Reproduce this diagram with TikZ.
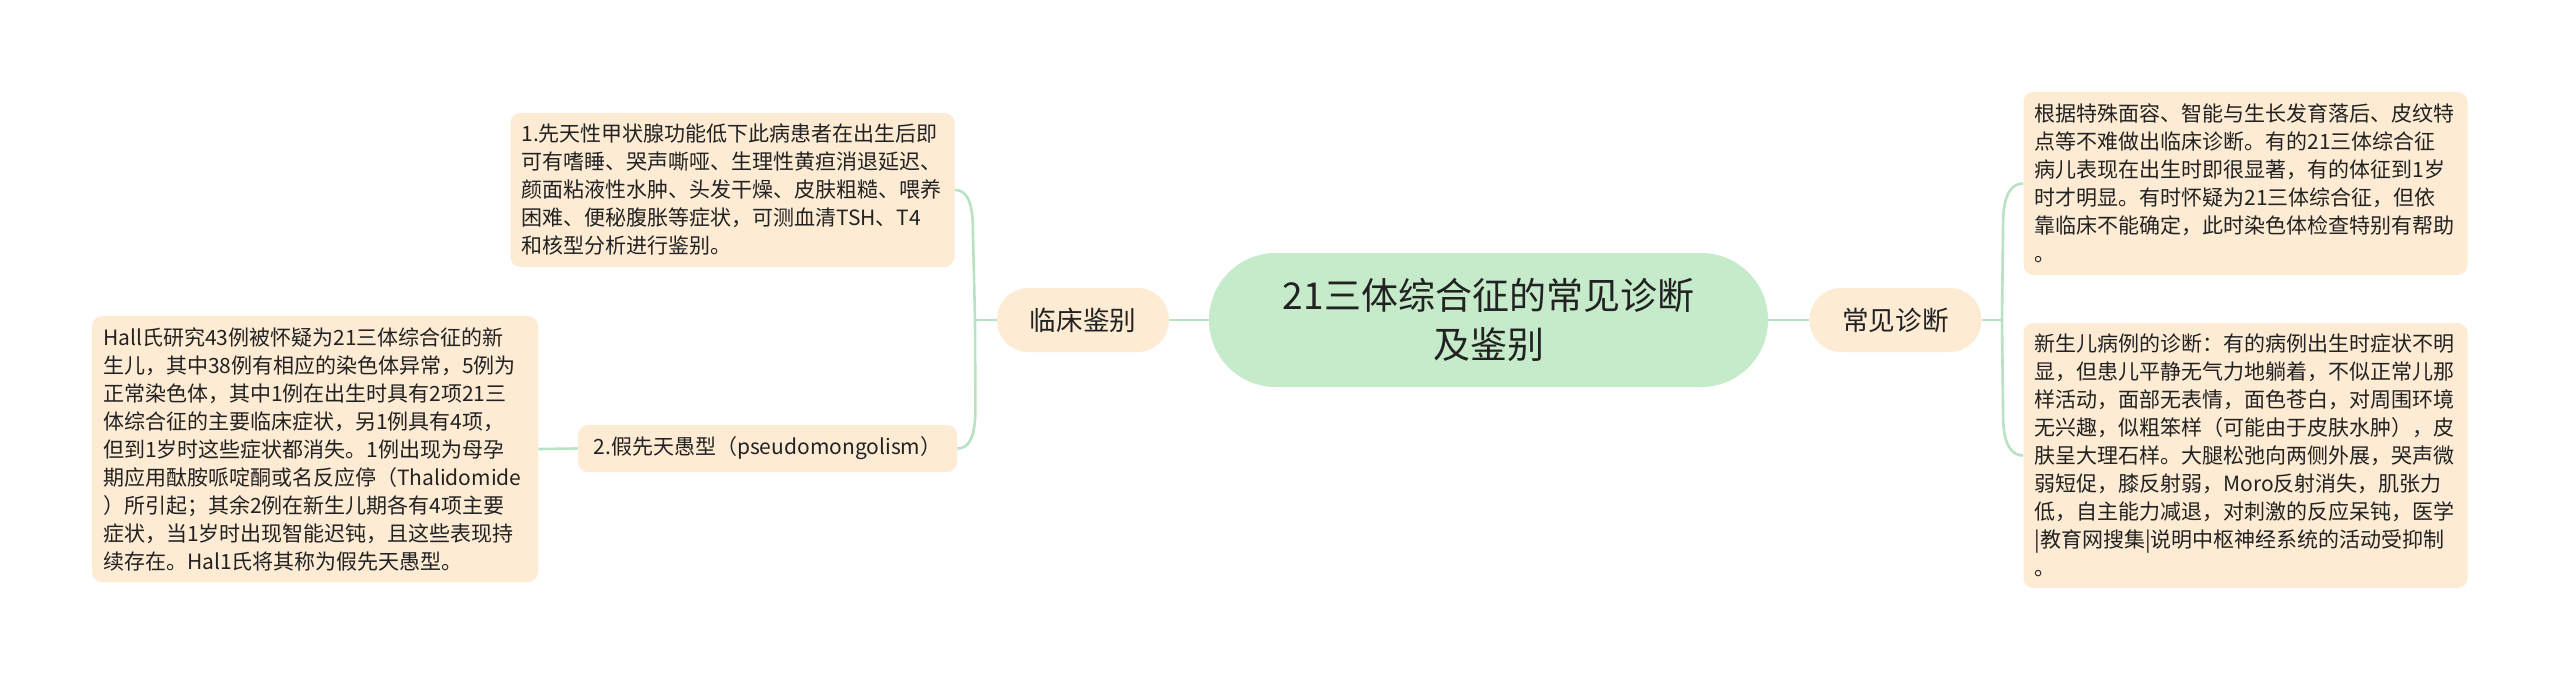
\documentclass[tikz,border=0pt]{standalone}
\usepackage{fontspec}
\setmainfont{Noto Sans CJK SC}
\definecolor{peach}{HTML}{FDEBD4}
\definecolor{mint}{HTML}{C6EBCB}
\definecolor{linec}{HTML}{B8E3C3}
\definecolor{txt}{HTML}{222222}
\begin{document}
\begin{tikzpicture}[x=0.5pt,y=-0.5pt,
  leaf/.style={fill=peach, draw=none, rounded corners=5pt, align=left, inner xsep=5.5pt, inner ysep=0pt,
    font=\fontsize{10.5}{14}\selectfont, text=txt},
  branch/.style={fill=peach, draw=none, rounded corners=15.9pt, minimum height=32pt, minimum width=86pt,
    font=\fontsize{13.3}{16}\selectfont, text=txt, inner sep=0pt},
  root/.style={fill=mint, draw=none, rounded corners=33.4pt, minimum width=279.5pt, minimum height=67pt,
    align=center, font=\fontsize{18.5}{24.5}\selectfont, text=txt, inner sep=0pt},
  conn/.style={draw=linec, line width=1.3pt}]
\fill[white] (0,0) rectangle (2560,681);
\useasboundingbox (0,0) rectangle (2560,681);

\node[root] (root) at (1488.5,320) {21三体综合征的常见诊断\\及鉴别};
\node[branch] (lin) at (1083,320) {临床鉴别};
\node[branch] (chang) at (1895.5,320) {常见诊断};

\node[leaf, minimum height=77pt, text width=211pt] (b1) at (732.5,190) {1.先天性甲状腺功能低下此病患者在出生后即\\
可有嗜睡、哭声嘶哑、生理性黄疸消退延迟、\\
颜面粘液性水肿、头发干燥、皮肤粗糙、喂养\\
困难、便秘腹胀等症状，可测血清TSH、T4\\
和核型分析进行鉴别。};

\node[leaf, minimum height=23.5pt, minimum width=189.5pt, align=center] (b2) at (767.5,448.5) {2.假先天愚型（pseudomongolism）};

\node[leaf, minimum height=133pt, text width=212pt] (b3) at (315,449) {Hall氏研究43例被怀疑为21三体综合征的新\\
生儿，其中38例有相应的染色体异常，5例为\\
正常染色体，其中1例在出生时具有2项21三\\
体综合征的主要临床症状，另1例具有4项，\\
但到1岁时这些症状都消失。1例出现为母孕\\
期应用酞胺哌啶酮或名反应停（Thalidomide\\
）所引起；其余2例在新生儿期各有4项主要\\
症状，当1岁时出现智能迟钝，且这些表现持\\
续存在。Hal1氏将其称为假先天愚型。};

\node[leaf, minimum height=91.5pt, text width=211pt] (b4) at (2245.5,183.5) {根据特殊面容、智能与生长发育落后、皮纹特\\
点等不难做出临床诊断。有的21三体综合征\\
病儿表现在出生时即很显著，有的体征到1岁\\
时才明显。有时怀疑为21三体综合征，但依\\
靠临床不能确定，此时染色体检查特别有帮助\\
。};

\node[leaf, minimum height=132.5pt, text width=211pt] (b5) at (2245.5,455.5) {新生儿病例的诊断：有的病例出生时症状不明\\
显，但患儿平静无气力地躺着，不似正常儿那\\
样活动，面部无表情，面色苍白，对周围环境\\
无兴趣，似粗笨样（可能由于皮肤水肿），皮\\
肤呈大理石样。大腿松弛向两侧外展，哭声微\\
弱短促，膝反射弱，Moro反射消失，肌张力\\
低，自主能力减退，对刺激的反应呆钝，医学\\
|教育网搜集|说明中枢神经系统的活动受抑制\\
。};

\coordinate (jl) at (975,320);
\coordinate (jr) at (2002,320);

\draw[conn] (root.west) -- (lin.east);
\draw[conn] (root.east) -- (chang.west);
\draw[conn] (lin.west) -- (jl);
\draw[conn] (jl) -- ([shift={(18,40)}]b1.east) .. controls ([shift={(18,8)}]b1.east) and ([shift={(10,0)}]b1.east) .. (b1.east);
\draw[conn] (jl) -- ([shift={(18,-40)}]b2.east) .. controls ([shift={(18,-8)}]b2.east) and ([shift={(10,0)}]b2.east) .. (b2.east);
\draw[conn] (b2.west) -- (b3.east);
\draw[conn] (chang.east) -- (jr);
\draw[conn] (jr) -- ([shift={(-20,40)}]b4.west) .. controls ([shift={(-20,8)}]b4.west) and ([shift={(-10,0)}]b4.west) .. (b4.west);
\draw[conn] (jr) -- ([shift={(-20,-40)}]b5.west) .. controls ([shift={(-20,-8)}]b5.west) and ([shift={(-10,0)}]b5.west) .. (b5.west);
\end{tikzpicture}
\end{document}
